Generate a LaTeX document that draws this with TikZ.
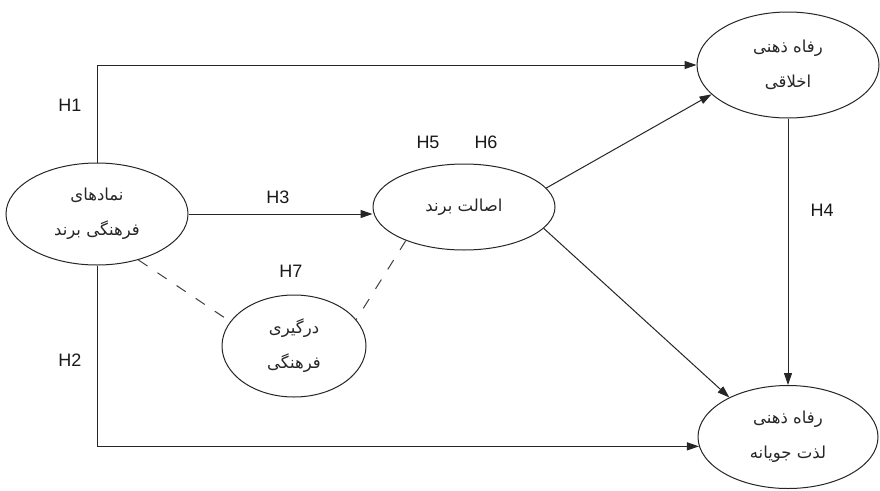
\documentclass[tikz,border=0pt]{standalone}
\usepackage{fontspec}
\setmainfont{Liberation Sans}
\newfontfamily\arabicfont[Script=Arabic]{DejaVu Sans}
\TeXXeTstate=1
\usetikzlibrary{shapes.geometric,arrows.meta}
\newcommand{\rtl}[1]{\beginR #1\endR}
\begin{document}
\begin{tikzpicture}[x=1pt,y=-1pt,
  oval/.style={draw=black!85,line width=1pt,ellipse,inner sep=0pt,align=center,
    font=\arabicfont\fontsize{16.5}{35}\selectfont,text=black!85},
  hlab/.style={font=\fontsize{18}{20}\selectfont,text=black!90},
  conn/.style={draw=black!85,line width=1pt,-{Triangle[length=12pt,width=8pt]}},
  dashline/.style={draw=black!75,line width=1pt,dash pattern=on 11pt off 12pt}]
\useasboundingbox[fill=white] (0,0) rectangle (880,490);

\node[oval,minimum width=182pt,minimum height=102pt] (L) at (97,214) {\rtl{نمادهای}\\\rtl{فرهنگی برند}};
\node[oval,minimum width=182pt,minimum height=86pt] (A) at (464,207) {\rtl{اصالت برند}};
\node[oval,minimum width=182pt,minimum height=106pt] (TR) at (788,65) {\rtl{رفاه ذهنی}\\\rtl{اخلاقی}};
\node[oval,minimum width=180pt,minimum height=103pt] (BR) at (788,437) {\rtl{رفاه ذهنی}\\\rtl{لذت جویانه}};
\node[oval,minimum width=144pt,minimum height=102pt] (I) at (294,346) {\rtl{درگیری}\\\rtl{فرهنگی}};

\draw[conn] (L.north) |- (TR.west);
\draw[conn] (L.south) |- (BR.186);
\draw[conn] (L.east) -- (L.east -| A.west);
\draw[conn] (A.13) -- (TR.201);
\draw[conn] (A.345) -- (BR.146);
\draw[conn] (TR.south) -- (BR.north);
\draw[dashline] (L.-48) -- (I.159);
\draw[dashline] (A.210) -- (I.23);

\node[hlab] (h1) at (70,105) {H1};
\node[hlab] (h2) at (70,360) {H2};
\node[hlab] (h3) at (278,197) {H3};
\node[hlab] (h4) at (822,210) {H4};
\node[hlab] (h5) at (428,142) {H5};
\node[hlab] (h6) at (486,142) {H6};
\node[hlab] (h7) at (291,271) {H7};
\end{tikzpicture}
\end{document}
